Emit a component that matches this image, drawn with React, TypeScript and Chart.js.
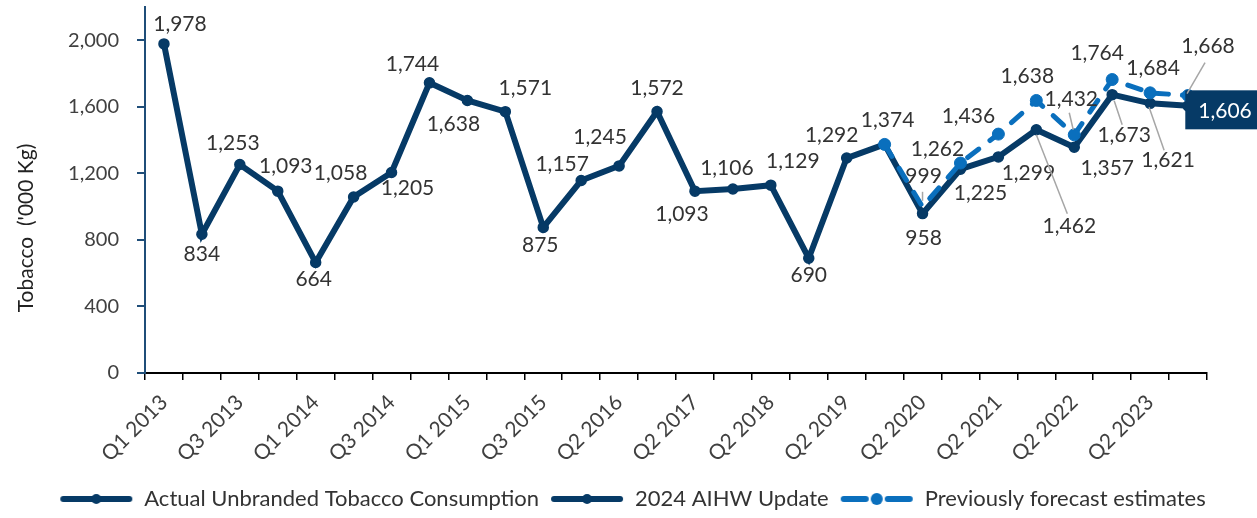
import React, { useEffect, useRef } from 'react';
import { Chart, registerables } from 'chart.js';

Chart.register(...registerables);

// ---------- data ----------
const categories = [
  'Q1 2013', 'Q2 2013', 'Q3 2013', 'Q4 2013',
  'Q1 2014', 'Q2 2014', 'Q3 2014', 'Q4 2014',
  'Q1 2015', 'Q2 2015', 'Q3 2015', 'Q4 2015',
  'Q2 2016', 'Q4 2016', 'Q2 2017', 'Q4 2017',
  'Q2 2018', 'Q4 2018', 'Q2 2019', 'Q4 2019',
  'Q2 2020', 'Q4 2020', 'Q2 2021', 'Q4 2021',
  'Q2 2022', 'Q4 2022', 'Q2 2023', 'Q4 2023',
];

const actualValues: (number | null)[] = [
  1978, 834, 1253, 1093, 664, 1058, 1205, 1744, 1638, 1571,
  875, 1157, 1245, 1572, 1093, 1106, 1129, 690, 1292, 1374,
  null, null, null, null, null, null, null, null,
];

const aihwValues: (number | null)[] = [
  null, null, null, null, null, null, null, null, null, null,
  null, null, null, null, null, null, null, null, null, 1374,
  958, 1225, 1299, 1462, 1357, 1673, 1621, 1606,
];

const forecastValues: (number | null)[] = [
  null, null, null, null, null, null, null, null, null, null,
  null, null, null, null, null, null, null, null, null, 1374,
  999, 1262, 1436, 1638, 1432, 1764, 1684, 1668,
];

const yTickValues = [0, 400, 800, 1200, 1600, 2000];

const seriesNames = [
  'Actual Unbranded Tobacco Consumption',
  '2024 AIHW Update',
  'Previously forecast estimates',
];

const yAxisTitle = "Tobacco  ('000 Kg)";

// ---------- style ----------
const NAVY = '#063a66';
const BLUE = '#0a6fbd';
const TEXT = '#333333';
const LEADER = '#a6a6a6';
const FONT = 'Lato, "Open Sans", sans-serif';

type LabelSpec = {
  ds: number;
  i: number;
  dx: number;
  dy: number;
  leader?: [number, number, number, number];
  box?: boolean;
};

// label placement relative to each point (pixels)
const labelSpecs: LabelSpec[] = [
  { ds: 0, i: 0, dx: 16, dy: -20 },
  { ds: 0, i: 1, dx: 0, dy: 20 },
  { ds: 0, i: 2, dx: -7, dy: -21 },
  { ds: 0, i: 3, dx: 8, dy: -25 },
  { ds: 0, i: 4, dx: -2, dy: 17 },
  { ds: 0, i: 5, dx: -13, dy: -24 },
  { ds: 0, i: 6, dx: 16, dy: 16 },
  { ds: 0, i: 7, dx: -17, dy: -19 },
  { ds: 0, i: 8, dx: -14, dy: 24 },
  { ds: 0, i: 9, dx: 20, dy: -23 },
  { ds: 0, i: 10, dx: -3, dy: 18 },
  { ds: 0, i: 11, dx: -19, dy: -16 },
  { ds: 0, i: 12, dx: -19, dy: -29 },
  { ds: 0, i: 13, dx: 0, dy: -23 },
  { ds: 0, i: 14, dx: -13, dy: 23 },
  { ds: 0, i: 15, dx: -6, dy: -21 },
  { ds: 0, i: 16, dx: 22, dy: -24 },
  { ds: 0, i: 17, dx: 0, dy: 17 },
  { ds: 0, i: 18, dx: -15, dy: -23 },
  { ds: 0, i: 19, dx: 3, dy: -24 },

  { ds: 1, i: 20, dx: 1, dy: 25 },
  { ds: 1, i: 21, dx: 20, dy: 24 },
  { ds: 1, i: 22, dx: 30, dy: 16 },
  { ds: 1, i: 23, dx: 33, dy: 96, leader: [0, 5, 31, 84] },
  { ds: 1, i: 24, dx: 33, dy: 21 },
  { ds: 1, i: 25, dx: 12, dy: 41, leader: [2, 6, 10, 30] },
  { ds: 1, i: 26, dx: 18, dy: 57, leader: [-1, 4, 14, 47] },
  { ds: 1, i: 27, dx: 35, dy: 4, box: true },

  { ds: 2, i: 20, dx: 1, dy: -31, leader: [0, -15, 0, -6] },
  { ds: 2, i: 21, dx: -23, dy: -14 },
  { ds: 2, i: 22, dx: -30, dy: -18 },
  { ds: 2, i: 23, dx: -9, dy: -24 },
  { ds: 2, i: 24, dx: -3, dy: -36, leader: [-5, -22, -1, -5] },
  { ds: 2, i: 25, dx: -15, dy: -26 },
  { ds: 2, i: 26, dx: 3, dy: -25 },
  { ds: 2, i: 27, dx: 20, dy: -49, leader: [17, -33, -1, -2] },
];

const fmt = (v: number) => v.toLocaleString('en-US');

function makeLegendImage(color: string, dashed: boolean): HTMLCanvasElement {
  const c = document.createElement('canvas');
  c.width = 84;
  c.height = 16;
  const g = c.getContext('2d')!;
  g.strokeStyle = color;
  g.fillStyle = color;
  g.lineWidth = 6;
  g.lineCap = 'round';
  g.beginPath();
  if (dashed) {
    g.moveTo(14, 8); g.lineTo(36, 8);
    g.moveTo(58, 8); g.lineTo(80, 8);
  } else {
    g.moveTo(14, 8); g.lineTo(80, 8);
  }
  g.stroke();
  g.beginPath();
  g.arc(47, 8, dashed ? 6 : 5, 0, Math.PI * 2);
  g.fill();
  return c;
}

const labelPlugin = {
  id: 'customLabels',
  afterLayout(chart: any) {
    const lg = chart.legend;
    if (lg) {
      lg.left += 24;
      lg.right += 24;
      lg.top += 2;
      lg.bottom += 2;
    }
  },
  afterDatasetsDraw(chart: any) {
    const ctx: CanvasRenderingContext2D = chart.ctx;
    ctx.save();
    ctx.font = `21px ${FONT}`;
    ctx.textAlign = 'center';
    ctx.textBaseline = 'middle';
    for (const s of labelSpecs) {
      const el = chart.getDatasetMeta(s.ds).data[s.i];
      const value = chart.data.datasets[s.ds].data[s.i];
      if (!el || value == null) continue;
      const px = el.x;
      const py = el.y;
      if (s.leader) {
        ctx.strokeStyle = LEADER;
        ctx.lineWidth = 1.5;
        ctx.beginPath();
        ctx.moveTo(px + s.leader[0], py + s.leader[1]);
        ctx.lineTo(px + s.leader[2], py + s.leader[3]);
        ctx.stroke();
      }
      const text = fmt(value);
      const x = px + s.dx;
      const y = py + s.dy;
      if (s.box) {
        const w = ctx.measureText(text).width + 22;
        const h = 39;
        ctx.fillStyle = NAVY;
        ctx.fillRect(x - w / 2, y - h / 2, w, h);
        ctx.fillStyle = '#ffffff';
        ctx.fillText(text, x + 2, y + 1);
      } else {
        ctx.fillStyle = TEXT;
        ctx.fillText(text, x, y);
      }
    }
    // y axis title
    ctx.font = `21px ${FONT}`;
    ctx.fillStyle = '#222222';
    ctx.translate(26, 228);
    ctx.rotate(-Math.PI / 2);
    ctx.fillText(yAxisTitle, 0, 0);
    ctx.restore();
  },
};

export default function App() {
  const ref = useRef<HTMLCanvasElement | null>(null);

  useEffect(() => {
    document.body.style.margin = '0';
    document.body.style.overflow = 'hidden';
    const canvas = ref.current;
    if (!canvas) return;

    const legendImages = [
      makeLegendImage(NAVY, false),
      makeLegendImage(NAVY, false),
      makeLegendImage(BLUE, true),
    ];

    const chart = new Chart(canvas, {
      type: 'line',
      data: {
        labels: categories,
        datasets: [
          {
            label: seriesNames[0],
            data: actualValues,
            borderColor: NAVY,
            backgroundColor: NAVY,
            borderWidth: 6,
            pointRadius: 5,
            pointBorderWidth: 1.5,
            pointBackgroundColor: NAVY,
            pointBorderColor: NAVY,
            tension: 0,
            order: 2,
          },
          {
            label: seriesNames[1],
            data: aihwValues,
            borderColor: NAVY,
            backgroundColor: NAVY,
            borderWidth: 6,
            pointRadius: (c: any) => (c.dataIndex === 19 ? 0 : 5),
            pointBorderWidth: 1.5,
            pointBackgroundColor: NAVY,
            pointBorderColor: NAVY,
            tension: 0,
            order: 1,
          },
          {
            label: seriesNames[2],
            data: forecastValues,
            borderColor: BLUE,
            backgroundColor: BLUE,
            borderWidth: 5,
            borderDash: [14, 14],
            borderCapStyle: 'round',
            pointRadius: (c: any) => (c.dataIndex === 20 ? 0 : 6),
            pointBorderWidth: 1,
            pointBackgroundColor: BLUE,
            pointBorderColor: BLUE,
            tension: 0,
            order: 0,
          },
        ] as any,
      },
      options: {
        responsive: false,
        animation: false,
        devicePixelRatio: 1,
        layout: { padding: { top: 5, right: 50, left: 0, bottom: 0 } },
        plugins: {
          tooltip: { enabled: false },
          legend: {
            position: 'bottom',
            labels: {
              usePointStyle: true,
              pointStyleWidth: 84,
              padding: 1,
              color: TEXT,
              font: { size: 22, family: FONT },
              generateLabels: () =>
                seriesNames.map((n, i) => ({
                  text: n,
                  pointStyle: legendImages[i] as any,
                  fillStyle: 'rgba(0,0,0,0)',
                  strokeStyle: 'rgba(0,0,0,0)',
                  lineWidth: 0,
                  hidden: false,
                  datasetIndex: i,
                  fontColor: TEXT,
                })),
            },
          },
        },
        scales: {
          x: {
            offset: true,
            afterFit: (s: any) => {
              s.height = 112;
              s.paddingLeft = 0;
              s.paddingRight = 0;
            },
            border: { display: true, color: '#000000', width: 2 },
            grid: {
              offset: true,
              drawOnChartArea: false,
              drawTicks: true,
              tickLength: 7,
              color: '#000000',
              lineWidth: 1.5,
            },
            ticks: {
              autoSkip: false,
              minRotation: 45,
              maxRotation: 45,
              padding: 10,
              color: '#404040',
              font: { size: 21, family: FONT },
              callback: (_v: any, i: number) => (i % 2 === 0 ? categories[i] : ''),
            },
          },
          y: {
            min: 0,
            max: 2200,
            afterBuildTicks: (s: any) => {
              s.ticks = yTickValues.map((v) => ({ value: v }));
            },
            afterFit: (s: any) => {
              s.width = 145;
              s.paddingTop = 0;
              s.paddingBottom = 0;
            },
            border: { display: true, color: '#1f4e79', width: 2 },
            grid: {
              drawOnChartArea: false,
              drawTicks: true,
              tickLength: 8,
              color: '#1f4e79',
              lineWidth: 2,
            },
            ticks: {
              padding: 18,
              color: '#404040',
              font: { size: 20, family: FONT },
              callback: (v: any) => fmt(Number(v)),
            },
          },
        },
      } as any,
      plugins: [labelPlugin],
    });

    return () => chart.destroy();
  }, []);

  return (
    <div style={{ width: 1257, height: 518, position: 'relative' }}>
      <canvas ref={ref} width={1257} height={518} style={{ display: 'block' }} />
    </div>
  );
}
